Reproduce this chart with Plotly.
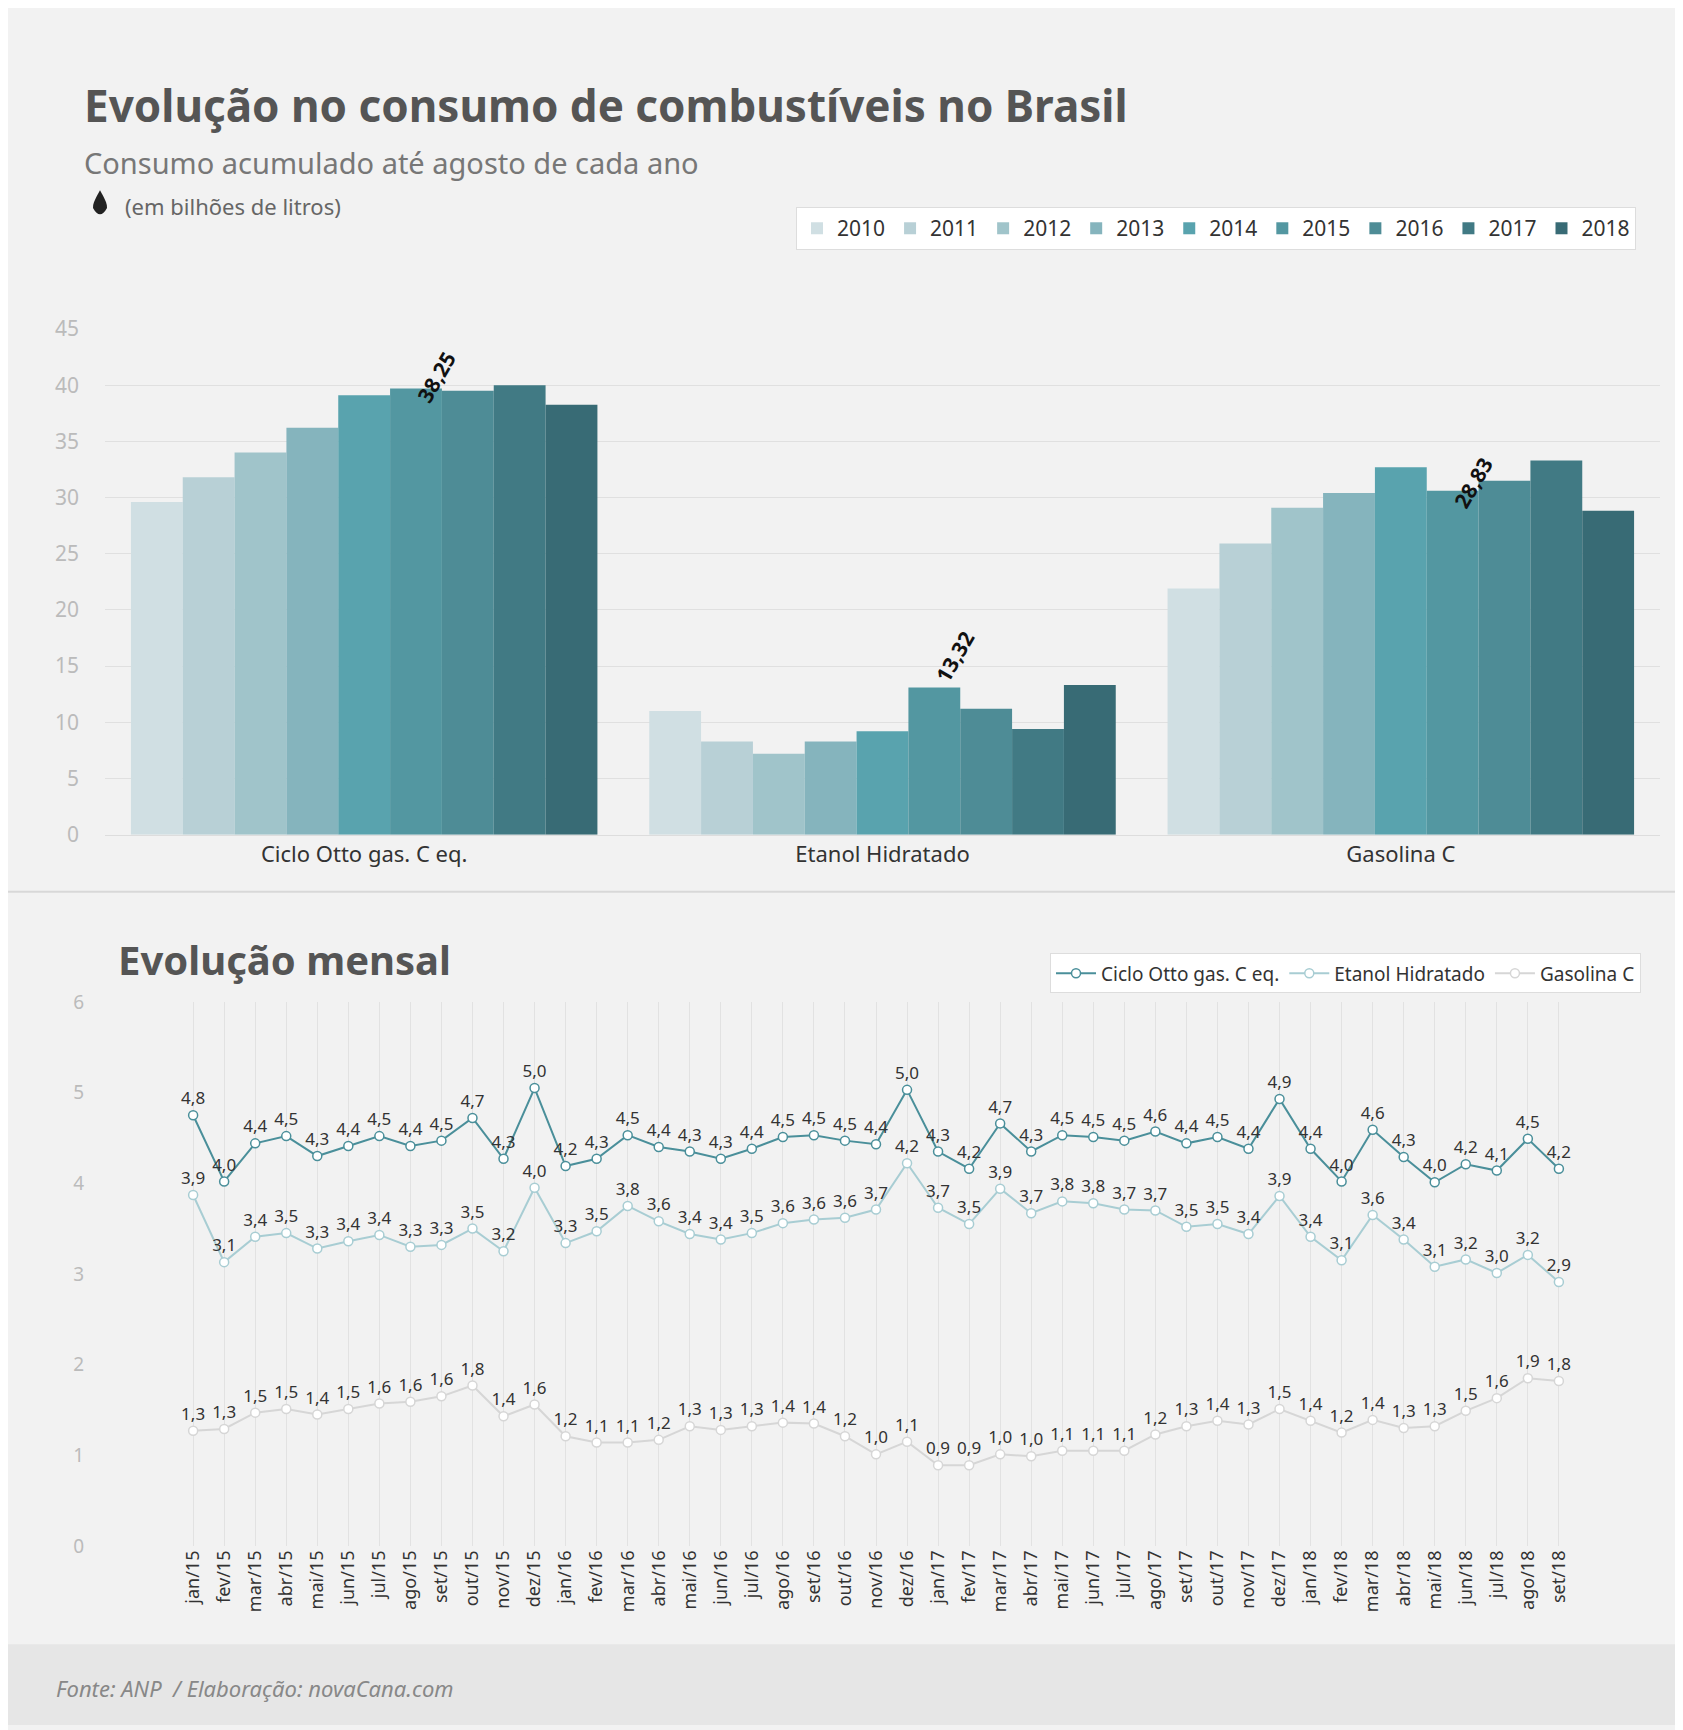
import plotly.graph_objects as go

years = ["2010","2011","2012","2013","2014","2015","2016","2017","2018"]
groups = ["Ciclo Otto gas. C eq.", "Etanol Hidratado", "Gasolina C"]
otto_y = [29.6, 31.8, 34.0, 36.2, 39.1, 39.7, 39.5, 40.0, 38.25]
etanol_y = [11.0, 8.3, 7.2, 8.3, 9.2, 13.1, 11.2, 9.4, 13.32]
gas_y = [21.9, 25.9, 29.1, 30.4, 32.7, 30.6, 31.5, 33.3, 28.83]
bar_colors = ["#d0dfe3", "#b8d0d6", "#a0c4ca", "#85b4bd", "#59a3ae", "#5397a1", "#4e8c96", "#417a84", "#386b75"]

months = []
for yy in ["15", "16", "17", "18"]:
    for m in ["jan","fev","mar","abr","mai","jun","jul","ago","set","out","nov","dez"]:
        months.append(f"{m}/{yy}")
months = months[:45]
otto_m = [4.75,4.02,4.44,4.52,4.30,4.41,4.52,4.41,4.47,4.72,4.27,5.05,
          4.19,4.27,4.53,4.40,4.35,4.27,4.38,4.51,4.53,4.47,4.43,5.03,
          4.35,4.16,4.66,4.35,4.53,4.51,4.47,4.57,4.44,4.51,4.38,4.93,
          4.38,4.02,4.59,4.29,4.01,4.21,4.14,4.49,4.16]
etanol_m = [3.87,3.13,3.41,3.45,3.28,3.36,3.43,3.30,3.32,3.50,3.25,3.95,
            3.34,3.47,3.75,3.58,3.44,3.38,3.45,3.56,3.60,3.62,3.71,4.22,
            3.73,3.55,3.94,3.67,3.80,3.78,3.71,3.70,3.52,3.55,3.44,3.86,
            3.41,3.15,3.65,3.38,3.08,3.16,3.01,3.21,2.91]
gas_m = [1.27,1.29,1.47,1.51,1.45,1.51,1.57,1.59,1.65,1.77,1.43,1.56,
         1.21,1.14,1.14,1.17,1.32,1.28,1.32,1.36,1.35,1.21,1.01,1.15,
         0.89,0.89,1.01,0.99,1.05,1.05,1.05,1.23,1.32,1.38,1.34,1.51,
         1.38,1.25,1.39,1.30,1.32,1.49,1.63,1.85,1.82]

W, H = 1683, 1730
FONT = "Noto Sans"
fig = go.Figure()
for i, yr in enumerate(years):
    fig.add_trace(go.Bar(x=groups, y=[otto_y[i], etanol_y[i], gas_y[i]], name=yr,
                         marker=dict(color=bar_colors[i], line=dict(width=0)),
                         legend="legend", xaxis="x", yaxis="y"))

def fmt(v):
    return f"{v:.1f}".replace(".", ",")

line_specs = [("Ciclo Otto gas. C eq.", otto_m, "#4a8f9a"),
              ("Etanol Hidratado", etanol_m, "#a8cdd3"),
              ("Gasolina C", gas_m, "#d6d6d6")]
for name, vals, col in line_specs:
    fig.add_trace(go.Scatter(x=months, y=vals, name=name, mode="lines+markers+text",
                             text=[fmt(v) for v in vals], textposition="top center",
                             textfont=dict(size=17, color="#333", family=FONT),
                             line=dict(color=col, width=2),
                             marker=dict(size=9, color="white", line=dict(color=col, width=1.5)),
                             legend="legend2", xaxis="x2", yaxis="y2"))

# rotated labels on last bars
for g, v in zip(groups, [otto_y[-1], etanol_y[-1], gas_y[-1]]):
    fig.add_annotation(x=g, y=v, xref="x", yref="y", text=f"<b>{v:.2f}".replace(".", ",") + "</b>",
                       textangle=-60, showarrow=False, xshift=72, yshift=28,
                       font=dict(size=21, color="#111", family=FONT))

def py(p):
    return 1 - p / H

fig.update_layout(
    width=W, height=H, paper_bgcolor="#f2f2f2", plot_bgcolor="#f2f2f2",
    margin=dict(l=0, r=0, t=0, b=0), barmode="group", bargap=0.1, bargroupgap=0,
    font=dict(family=FONT, color="#555"),
    xaxis=dict(domain=[97/W, 1652/W], anchor="y", showgrid=False,
               tickfont=dict(size=22, color="#333"), showline=True, linecolor="#ddd", ticks=""),
    yaxis=dict(domain=[py(825), py(311)], range=[0, 45], dtick=5, gridcolor="#e0e0e0",
               tickfont=dict(size=21, color="#bbb"), zeroline=False, ticklabelstandoff=25),
    xaxis2=dict(domain=[103/W, 1633/W], anchor="y2", showgrid=True, gridcolor="#e2e2e2",
                tickangle=-90, tickfont=dict(size=18, color="#333"), showline=False),
    yaxis2=dict(domain=[py(1548), py(995)], range=[0, 6], dtick=1, showgrid=False,
                tickfont=dict(size=19, color="#bbb"), zeroline=False, ticklabelstandoff=20),
    legend=dict(orientation="h", x=1628/W, xanchor="right", y=py(209), yanchor="middle",
                bgcolor="white", bordercolor="#ddd", borderwidth=1,
                font=dict(size=21, color="#333"), itemwidth=30, traceorder="normal"),
    legend2=dict(orientation="h", x=1633/W, xanchor="right", y=py(966), yanchor="middle",
                 bgcolor="white", bordercolor="#ddd", borderwidth=1,
                 font=dict(size=19, color="#333"), itemwidth=40),
    shapes=[
        dict(type="line", xref="paper", yref="paper", x0=0, x1=1, y0=py(883), y1=py(883),
             line=dict(color="#d8d8d8", width=2)),
        dict(type="rect", xref="paper", yref="paper", x0=0, x1=1, y0=0, y1=py(1648),
             fillcolor="#e6e6e6", line=dict(width=0), layer="below"),
        dict(type="path", xref="paper", yref="paper",
             path=f"M {92/W} {py(170)} Q {84/W} {py(184)} {85/W} {py(188)} Q {92/W} {py(201)} {99/W} {py(188)} Q {100/W} {py(184)} {92/W} {py(170)} Z",
             fillcolor="#222", line=dict(width=0)),
    ],
    annotations=list(fig.layout.annotations) + [
        dict(text="<b>Evolução no consumo de combustíveis no Brasil</b>", x=74/W, y=py(83),
             xref="paper", yref="paper", xanchor="left", yanchor="middle", showarrow=False,
             font=dict(size=44, color="#555")),
        dict(text="Consumo acumulado até agosto de cada ano", x=74/W, y=py(142),
             xref="paper", yref="paper", xanchor="left", yanchor="middle", showarrow=False,
             font=dict(size=29, color="#777")),
        dict(text="(em bilhões de litros)", x=115/W, y=py(186),
             xref="paper", yref="paper", xanchor="left", yanchor="middle", showarrow=False,
             font=dict(size=22, color="#666")),
        dict(text="<b>Evolução mensal</b>", x=108/W, y=py(952),
             xref="paper", yref="paper", xanchor="left", yanchor="middle", showarrow=False,
             font=dict(size=40, color="#555")),
        dict(text="<i>Fonte: ANP  / Elaboração: novaCana.com</i>", x=46/W, y=py(1692),
             xref="paper", yref="paper", xanchor="left", yanchor="middle", showarrow=False,
             font=dict(size=22, color="#888")),
    ],
)
fig.write_html("out.html")
